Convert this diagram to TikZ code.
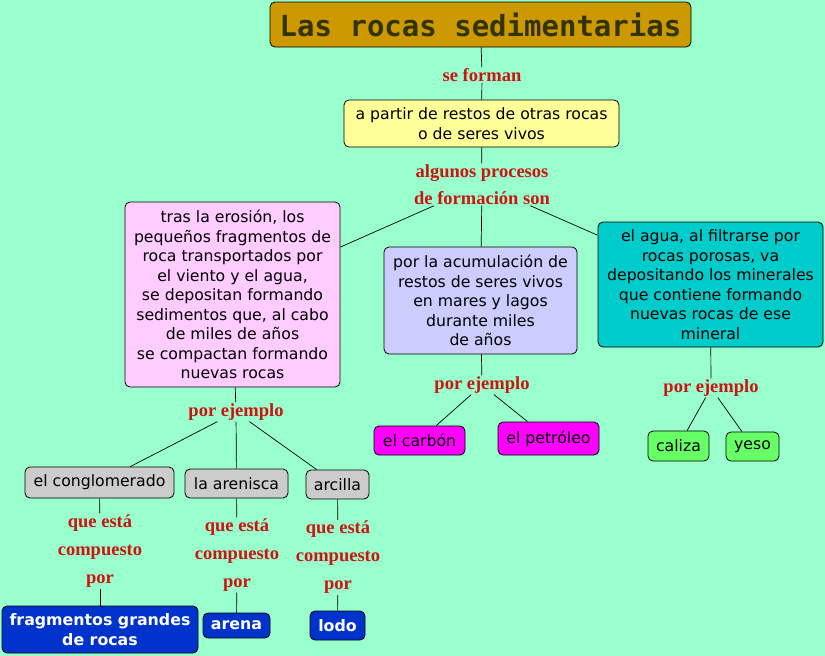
\documentclass[tikz,border=0pt]{standalone}
\usepackage{fontspec}
\newfontfamily\vfont{DejaVu Sans}
\newfontfamily\tfont{Liberation Serif}
\newfontfamily\mfont{DejaVu Sans Mono}
\definecolor{bg}{RGB}{153,255,204}
\definecolor{labred}{RGB}{204,20,20}
\definecolor{gold}{RGB}{204,153,0}
\definecolor{titletxt}{RGB}{51,51,0}
\definecolor{yel}{RGB}{255,255,153}
\definecolor{pink}{RGB}{255,204,255}
\definecolor{lav}{RGB}{204,204,255}
\definecolor{teal}{RGB}{0,204,204}
\definecolor{grey}{RGB}{204,204,204}
\definecolor{blu}{RGB}{0,51,204}
\definecolor{mag}{RGB}{255,0,255}
\definecolor{grn}{RGB}{102,255,102}
\begin{document}
\begin{tikzpicture}[x=1pt,y=-1pt,
  box/.style={draw=black, line width=0.8pt, rounded corners=5pt, align=center, inner sep=0pt,
    font=\vfont\fontsize{15.7}{19.5}\selectfont, text=black},
  bluebox/.style={box, fill=blu, text=white, font=\vfont\bfseries\fontsize{15.8}{20}\selectfont},
  lab/.style={align=center, inner sep=1pt, text=labred, font=\tfont\bfseries\fontsize{18.5}{27}\selectfont},
  lab3/.style={lab, font=\tfont\bfseries\fontsize{18.5}{28}\selectfont},
  conn/.style={draw=black, line width=0.7pt}]
\fill[bg] (0,0) rectangle (825,656);
\useasboundingbox (0,0) rectangle (825,656);

\node[box, fill=gold, text=titletxt, minimum width=421pt, minimum height=45pt,
  font=\mfont\bfseries\fontsize{29}{32}\selectfont] (title) at (480.5,24.5) {Las rocas sedimentarias};
\node[lab] (l1) at (482,75) {se forman};
\node[box, fill=yel, minimum width=275pt, minimum height=47pt] (yel) at (481.5,123.5)
  {a partir de restos de otras rocas\\o de seres vivos};
\node[lab] (l2) at (482,184.5) {algunos procesos\\de formación son};

\node[box, fill=pink, minimum width=215pt, minimum height=185pt] (pink) at (232.5,294.5)
  {tras la erosión, los\\pequeños fragmentos de\\roca transportados por\\el viento y el agua,\\se depositan formando\\sedimentos que, al cabo\\de miles de años\\se compactan formando\\nuevas rocas};
\node[box, fill=lav, minimum width=193pt, minimum height=107pt] (lav) at (480.5,300.5)
  {por la acumulación de\\restos de seres vivos\\en mares y lagos\\durante miles\\de años};
\node[box, fill=teal, minimum width=225pt, minimum height=125pt] (teal) at (710.5,284.5)
  {el agua, al filtrarse por\\rocas porosas, va\\depositando los minerales\\que contiene formando\\nuevas rocas de ese\\mineral};

\node[lab] (pe1) at (236,412) {por ejemplo};
\node[lab] (pe2) at (482,385) {por ejemplo};
\node[lab] (pe3) at (711,388) {por ejemplo};

\node[box, fill=grey, minimum width=149pt, minimum height=31pt] (cong) at (99.5,482.5) {el conglomerado};
\node[box, fill=grey, minimum width=103pt, minimum height=29pt] (aren) at (236.5,483.5) {la arenisca};
\node[box, fill=grey, minimum width=63pt, minimum height=29pt] (arc) at (337.5,484.5) {arcilla};

\node[box, fill=mag, minimum width=91pt, minimum height=29pt] (carb) at (419.5,440.5) {el carbón};
\node[box, fill=mag, minimum width=101pt, minimum height=33pt] (petr) at (548.5,438.5) {el petróleo};
\node[box, fill=grn, minimum width=61pt, minimum height=30pt] (cal) at (678.5,446) {caliza};
\node[box, fill=grn, minimum width=53pt, minimum height=29pt] (yeso) at (752.5,446.5) {yeso};

\node[lab3] (q1) at (100,551) {que está\\compuesto\\por};
\node[lab3] (q2) at (237,555) {que está\\compuesto\\por};
\node[lab3] (q3) at (338,557.5) {que está\\compuesto\\por};

\node[bluebox, minimum width=196pt, minimum height=47pt] (frag) at (100,629.5) {fragmentos grandes\\de rocas};
\node[bluebox, minimum width=67pt, minimum height=25pt] (arena) at (236.5,625.5) {arena};
\node[bluebox, minimum width=55pt, minimum height=29pt] (lodo) at (337.5,625.5) {lodo};

\draw[conn] (title) -- (l1);
\draw[conn] (l1) -- (yel);
\draw[conn] (yel) -- (l2);
\draw[conn] (l2) -- (pink);
\draw[conn] (l2) -- (lav);
\draw[conn] (l2) -- (teal);
\draw[conn] (pink) -- (pe1);
\draw[conn] (pe1) -- (cong);
\draw[conn] (pe1) -- (aren);
\draw[conn] (pe1) -- (arc);
\draw[conn] (lav) -- (pe2);
\draw[conn] (pe2) -- (carb);
\draw[conn] (pe2) -- (petr);
\draw[conn] (teal) -- (pe3);
\draw[conn] (pe3) -- (cal);
\draw[conn] (pe3) -- (yeso);
\draw[conn] (cong) -- (q1);
\draw[conn] (q1) -- (frag);
\draw[conn] (aren) -- (q2);
\draw[conn] (q2) -- (arena);
\draw[conn] (arc) -- (q3);
\draw[conn] (q3) -- (lodo);
\end{tikzpicture}
\end{document}
